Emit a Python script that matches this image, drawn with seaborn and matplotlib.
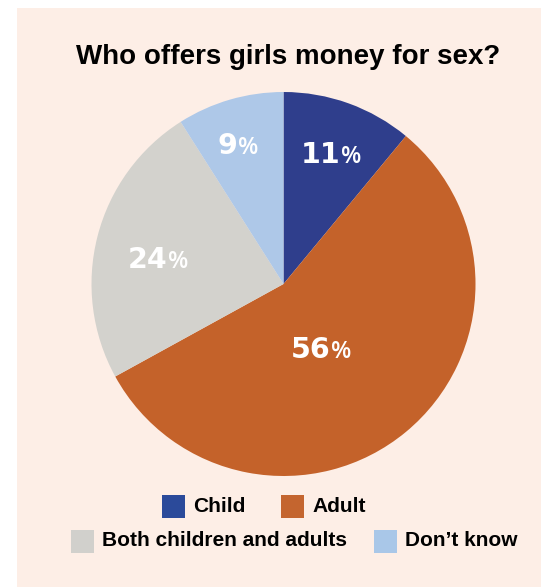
import matplotlib
matplotlib.use("Agg")
import matplotlib.pyplot as plt
from matplotlib.patches import Rectangle
import numpy as np
import seaborn as sns

# data
categories = ["Child", "Adult", "Both children and adults", "Don\u2019t know"]
values = [11, 56, 24, 9]
colors = ["#2f3e8c", "#c4622a", "#d3d2cd", "#aec8e8"]
legend_colors = ["#2b4a9a", "#c4652f", "#d1d0cc", "#a9c7e8"]
title = "Who offers girls money for sex?"

# label placement (style)
label_r = [0.745, 0.408, 0.622, 0.773]
label_dang = [-3.45, -3.2, 1.8, 2.05]

sns.set_theme(style="white")
plt.rcParams['font.family'] = ['Liberation Sans', 'DejaVu Sans']

W, H = 541, 587
fig = plt.figure(figsize=(W / 100, H / 100), dpi=100)
fig.patch.set_facecolor("white")
fig.patches.append(Rectangle((17 / W, 0), 1 - 17 / W, 1 - 8 / H, transform=fig.transFigure,
                             facecolor="#fdeee6", edgecolor="none", zorder=-5))

cx, cy, r = 283.5, 284, 192
ax = fig.add_axes([(cx - r) / W, 1 - (cy + r) / H, 2 * r / W, 2 * r / H])
ax.set_zorder(1)
ax.set_facecolor("none")
wedges, _ = ax.pie(values, colors=colors, startangle=90, counterclock=False,
                   wedgeprops=dict(linewidth=0))
ax.set_xlim(-1, 1)
ax.set_ylim(-1, 1)
ax.set_aspect("equal")
ax.axis("off")

base_off = 10.5 / r
for w, v, rr, da in zip(wedges, values, label_r, label_dang):
    ang = np.deg2rad((w.theta1 + w.theta2) / 2 + da)
    x, y = rr * np.cos(ang), rr * np.sin(ang) - base_off
    ax.text(x + 0.004, y, str(v), ha="right", va="baseline", color="white",
            fontsize=20.5, fontweight="bold", family=["DejaVu Sans"])
    ax.text(x + 0.006, y, "%", ha="left", va="baseline", color="white",
            fontsize=17, fontweight="semibold", family=["Open Sans", "Liberation Sans"])

fig.text(288 / W, 1 - 57 / H, title, ha="center", va="center",
         fontsize=20, fontweight="bold", color="black")

# legend
legend_pos = [(162, 506), (281, 506), (71, 541), (374, 541)]
sq = 23
for (lx, ly), lab, col in zip(legend_pos, categories, legend_colors):
    fig.patches.append(Rectangle((lx / W, 1 - (ly + sq / 2) / H), sq / W, sq / H,
                                 transform=fig.transFigure, facecolor=col,
                                 edgecolor="none", zorder=2))
    fig.text((lx + sq + 8) / W, 1 - ly / H, lab, ha="left", va="center",
             fontsize=15, fontweight="bold", color="black")

fig.savefig("out.png", dpi=100)
